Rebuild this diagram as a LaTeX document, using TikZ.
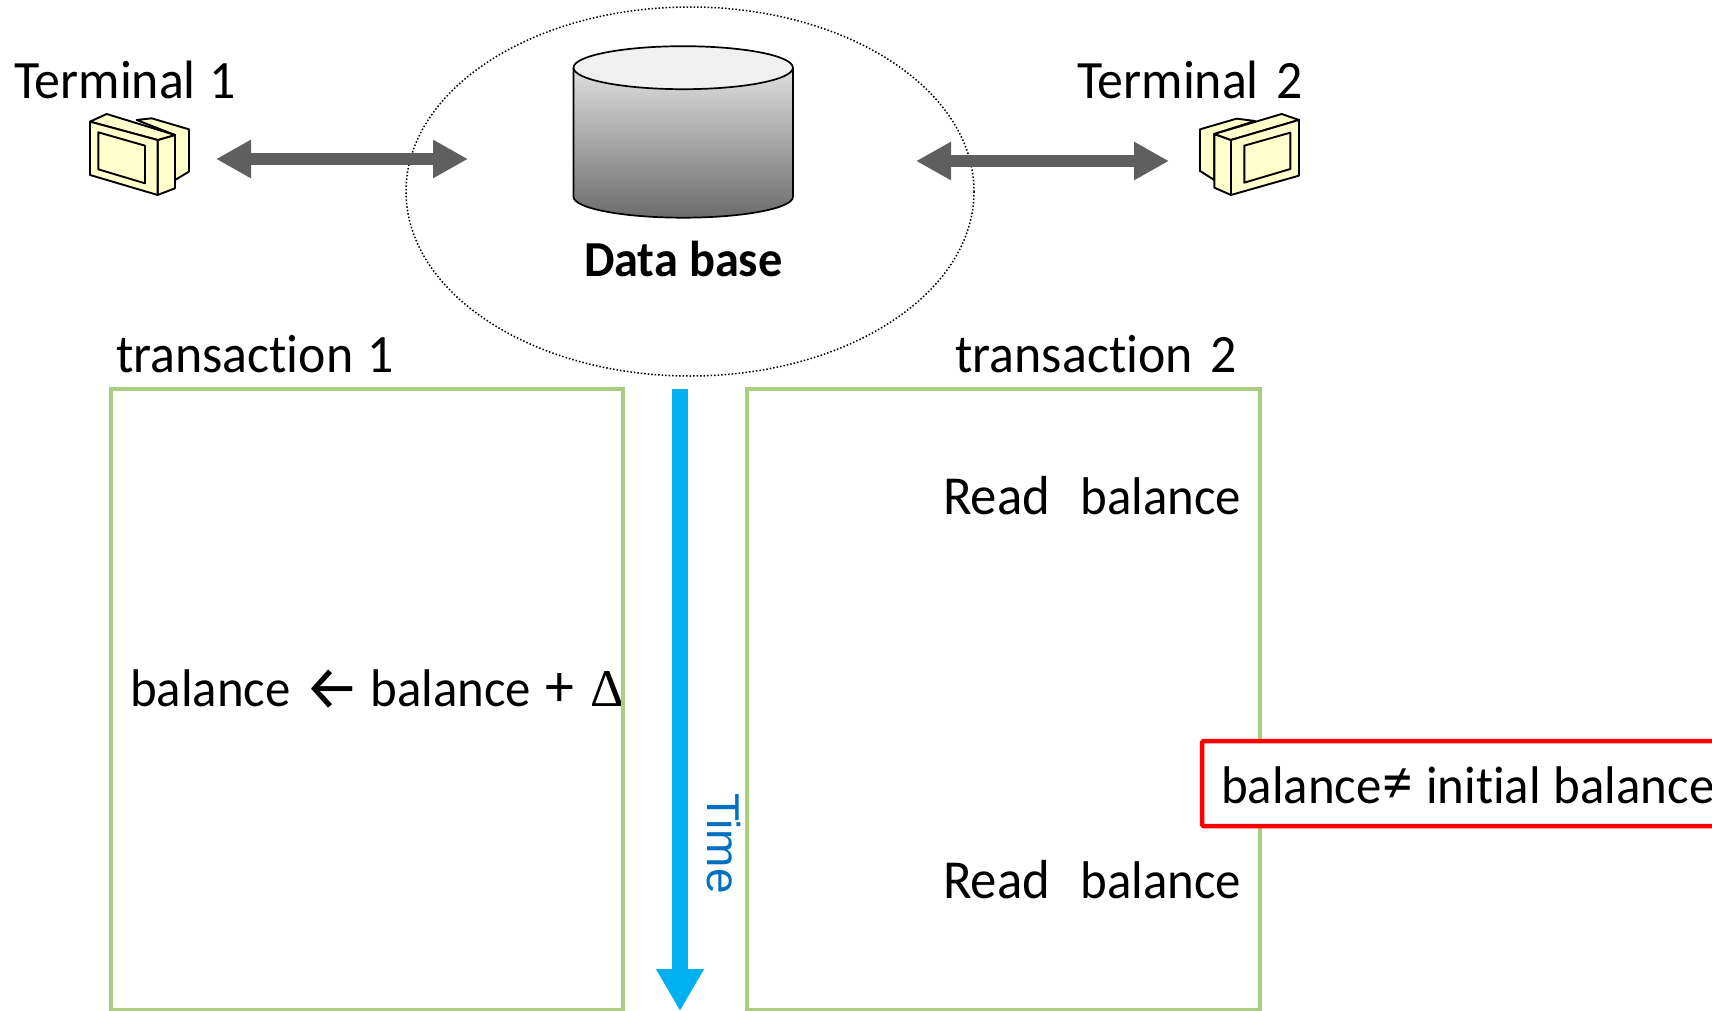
\documentclass[tikz,border=0pt]{standalone}
\usepackage{fontspec}
\setmainfont[FakeStretch=0.96,RawFeature={-liga;-clig;-dlig}]{Carlito}
\newfontfamily\armfont{Fira Sans}
\newfontfamily\deltafont{Liberation Serif}
\newfontfamily\timefont{Liberation Sans}
\usetikzlibrary{arrows.meta}
\definecolor{boxgreen}{HTML}{A9CE7E}
\definecolor{arrowgray}{HTML}{5F5F5F}
\definecolor{timeblue}{HTML}{00B0F0}
\definecolor{timetext}{HTML}{0070C0}
\definecolor{monyellow}{HTML}{FFFFCC}
\definecolor{cyltop}{HTML}{F0F0F0}
\definecolor{cylbot}{HTML}{6C6C6C}
\newcommand{\wbox}[2]{\makebox[#1pt][l]{#2}}
\newcommand{\fsz}[1]{\fontsize{#1}{#1}\selectfont}
\tikzset{
  lbl/.style={anchor=base west,inner sep=0pt,outer sep=0pt,font=\fontsize{54}{58}\selectfont,text=black},
  txbox/.style={draw=boxgreen,line width=4pt,fill=none},
  fatarrow/.style={draw=arrowgray,line width=12pt,{Triangle[length=35pt,width=36pt]}-{Triangle[length=35pt,width=36pt]}},
  mon/.style={draw=black,line width=1.9pt,fill=monyellow,line join=round},
}
\begin{document}
\begin{tikzpicture}[x=1pt,y=-1pt]
\useasboundingbox (0,0) rectangle (1712,1011);
% database ring
\draw[black,line width=1.5pt,dash pattern=on 1.5pt off 2pt] (690,191.5) ellipse [x radius=284,y radius=184.5];
% cylinder
\shade[top color=cyltop,bottom color=cylbot]
 (573.5,67.7) -- (573.5,196.7) .. controls (573.5,208.3) and (622.7,217.7) .. (683.2,217.7)
 .. controls (743.8,217.7) and (793,208.3) .. (793,196.7) -- (793,46) -- (573.5,46) -- cycle;
\draw[black,line width=1.7pt,line join=round]
 (573.5,67.7) -- (573.5,196.7) .. controls (573.5,208.3) and (622.7,217.7) .. (683.2,217.7)
 .. controls (743.8,217.7) and (793,208.3) .. (793,196.7) -- (793,67.7);
\fill[white] (570,40) rectangle (796,67.7);
\draw[black,line width=1.7pt,fill=white!94!black] (683.2,67.7) ellipse [x radius=109.7,y radius=21.5];
\node[lbl,font=\fontsize{50.4}{54}\selectfont\bfseries] (dbl) at (584,276) {Data base};
% terminal 1 (monitor)
\begin{scope}[shift={(0,40)},x=0.3333pt,y=-0.3333pt]
 \draw[mon] (410,240) -- (455,235) -- (567,268) -- (567,395) -- (525,420) -- (525,285) -- cycle;
 \draw[mon] (473,300) -- (525,285) -- (525,445) -- (473,465) -- cycle;
 \draw[mon] (270,245) -- (320,222) -- (525,285) -- (473,300) -- cycle;
 \draw[mon] (270,245) -- (473,300) -- (473,465) -- (270,405) -- cycle;
 \draw[mon] (295,277) -- (435,317) -- (435,430) -- (295,388) -- cycle;
\end{scope}
% terminal 2 (monitor)
\begin{scope}[shift={(1060,40)},x=0.3333pt,y=-0.3333pt]
 \draw[mon] (420,268) -- (530,236) -- (585,243) -- (463,282) -- (463,420) -- (420,393) -- cycle;
 \draw[mon] (463,282) -- (513,300) -- (513,465) -- (463,443) -- cycle;
 \draw[mon] (463,282) -- (665,222) -- (717,240) -- (513,300) -- cycle;
 \draw[mon] (513,300) -- (717,240) -- (717,407) -- (513,465) -- cycle;
 \draw[mon] (553,317) -- (691,278) -- (691,387) -- (553,428) -- cycle;
\end{scope}
% labels
\node[lbl] (t1) at (14,99) {\wbox{196}{Terminal}1};
\node[lbl] (t2) at (1077,99) {\wbox{200}{Terminal}2};
\node[lbl] (tx1) at (116,372) {\wbox{252}{transaction}1};
\node[lbl] (tx2) at (955.5,372) {\wbox{255.5}{transaction}2};
% double arrows
\coordinate (a1l) at (216,159); \coordinate (a1r) at (468,159);
\coordinate (a2l) at (916,161); \coordinate (a2r) at (1169,161);
\draw[fatarrow] (a1l) -- (a1r);
\draw[fatarrow] (a2l) -- (a2r);
% formula, under the box edge
\node[lbl,font=\fsz{53}] (eq) at (130,706.5) {\wbox{174}{balance}\wbox{66.5}{\raisebox{-3pt}{\armfont\fsz{62}←}}\wbox{175}{balance}\wbox{44.5}{\fsz{60}+}{\deltafont Δ}};
% boxes
\draw[txbox] (110.5,389) rectangle (623,1009.5);
\draw[txbox] (747,389) rectangle (1259.5,1009.5);
% time arrow
\coordinate (ts) at (680,389); \coordinate (te) at (680,1011);
\draw[timeblue,line width=16pt,-{Triangle[length=42pt,width=45pt]}] (ts) -- (te);
\node[anchor=base west,inner sep=0pt,rotate=-90,text=timetext,font=\timefont\fontsize{46}{50}\selectfont] (timel) at (707,793) {Time};
% texts
\node[lbl] (r1) at (943,514) {\wbox{137.5}{\fsz{55}Read}\fsz{53}balance};
\node[lbl] (r2) at (943,898) {\wbox{137.5}{\fsz{55}Read}\fsz{53}balance};
% red note
\draw[red,line width=4.5pt,fill=white,rounded corners=1.5pt] (1730,741) -- (1202,741) -- (1202,826) -- (1730,826);
\node[lbl,font=\fsz{53}] (note) at (1221,803) {\wbox{161}{balance}\wbox{44}{\fsz{64}≠}\wbox{128}{initial}balance};
\end{tikzpicture}
\end{document}
